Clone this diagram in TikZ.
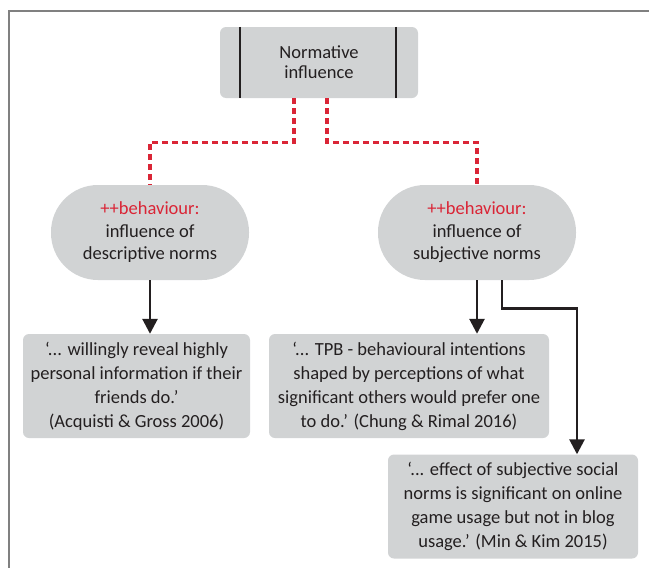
\documentclass[tikz,border=0pt]{standalone}
\usepackage{fontspec}
\setmainfont{Carlito}
\usetikzlibrary{positioning,arrows.meta}
\definecolor{boxgray}{RGB}{209,211,212}
\definecolor{normred}{RGB}{218,37,54}
\definecolor{inktext}{RGB}{35,31,32}
\definecolor{framegray}{RGB}{128,128,128}

\begin{document}
\begin{tikzpicture}[x=1pt, y=-1pt, every node/.style={font=\fontsize{18.5}{24}\selectfont, text=inktext},
    quotebox/.style={fill=boxgray, rounded corners=6pt, align=center, minimum height=104pt, inner sep=0pt},
    normpill/.style={fill=boxgray, rounded corners=47pt, align=center, minimum width=198pt, minimum height=95pt, inner sep=0pt, font=\fontsize{18.5}{22.5}\selectfont},
    dashline/.style={normred, line width=3.2pt, dash pattern=on 6pt off 4pt},
    arrow/.style={-{Triangle[width=15pt, length=15pt]}, line width=2.7pt, inktext}]
    \useasboundingbox (0,0) rectangle (649,568);
    \draw[framegray, line width=2pt] (9,568) -- (9,10.5) -- (649,10.5);

    \node[fill=boxgray, rounded corners=6pt, minimum width=198pt, minimum height=71pt, align=center, font=\fontsize{18.5}{20}\selectfont] (norm) at (319,62.5) {Normative\\influence};
    \draw[inktext, line width=1.5pt] ([xshift=20pt]norm.north west) -- ([xshift=20pt]norm.south west);
    \draw[inktext, line width=1.5pt] ([xshift=-22pt]norm.north east) -- ([xshift=-22pt]norm.south east);

    \node[normpill] (desc) at (150,232.5) {{\color{normred}++behaviour:}\\influence of\\descriptive norms};
    \node[normpill] (subj) at (477,232.5) {{\color{normred}++behaviour:}\\influence of\\subjective norms};

    \node[quotebox, minimum width=227pt] (acq) at (136.5,386) {‘... willingly reveal highly\\personal information if their\\friends do.’\\(Acquisti \& Gross 2006)};
    \node[quotebox, minimum width=280pt] (chung) at (409,386) {‘... TPB - behavioural intentions\\shaped by perceptions of what\\significant others would prefer one\\to do.’ (Chung \& Rimal 2016)};
    \node[quotebox, minimum width=250pt] (min) at (513,506.5) {‘... effect of subjective social\\norms is significant on online\\game usage but not in blog\\usage.’ (Min \& Kim 2015)};

    \draw[dashline] ([xshift=-25pt]norm.south) -- ++(0,44) -| (desc.north);
    \draw[dashline] ([xshift=8pt]norm.south) -- ++(0,44) -| (subj.north);

    \draw[arrow] (desc.south) -- (desc.south |- acq.north);
    \draw[arrow] (subj.south) -- (subj.south |- chung.north);
    \draw[arrow] ([xshift=25pt]subj.south) -- ++(0,28) -| ([xshift=64pt]min.north);
\end{tikzpicture}
\end{document}
